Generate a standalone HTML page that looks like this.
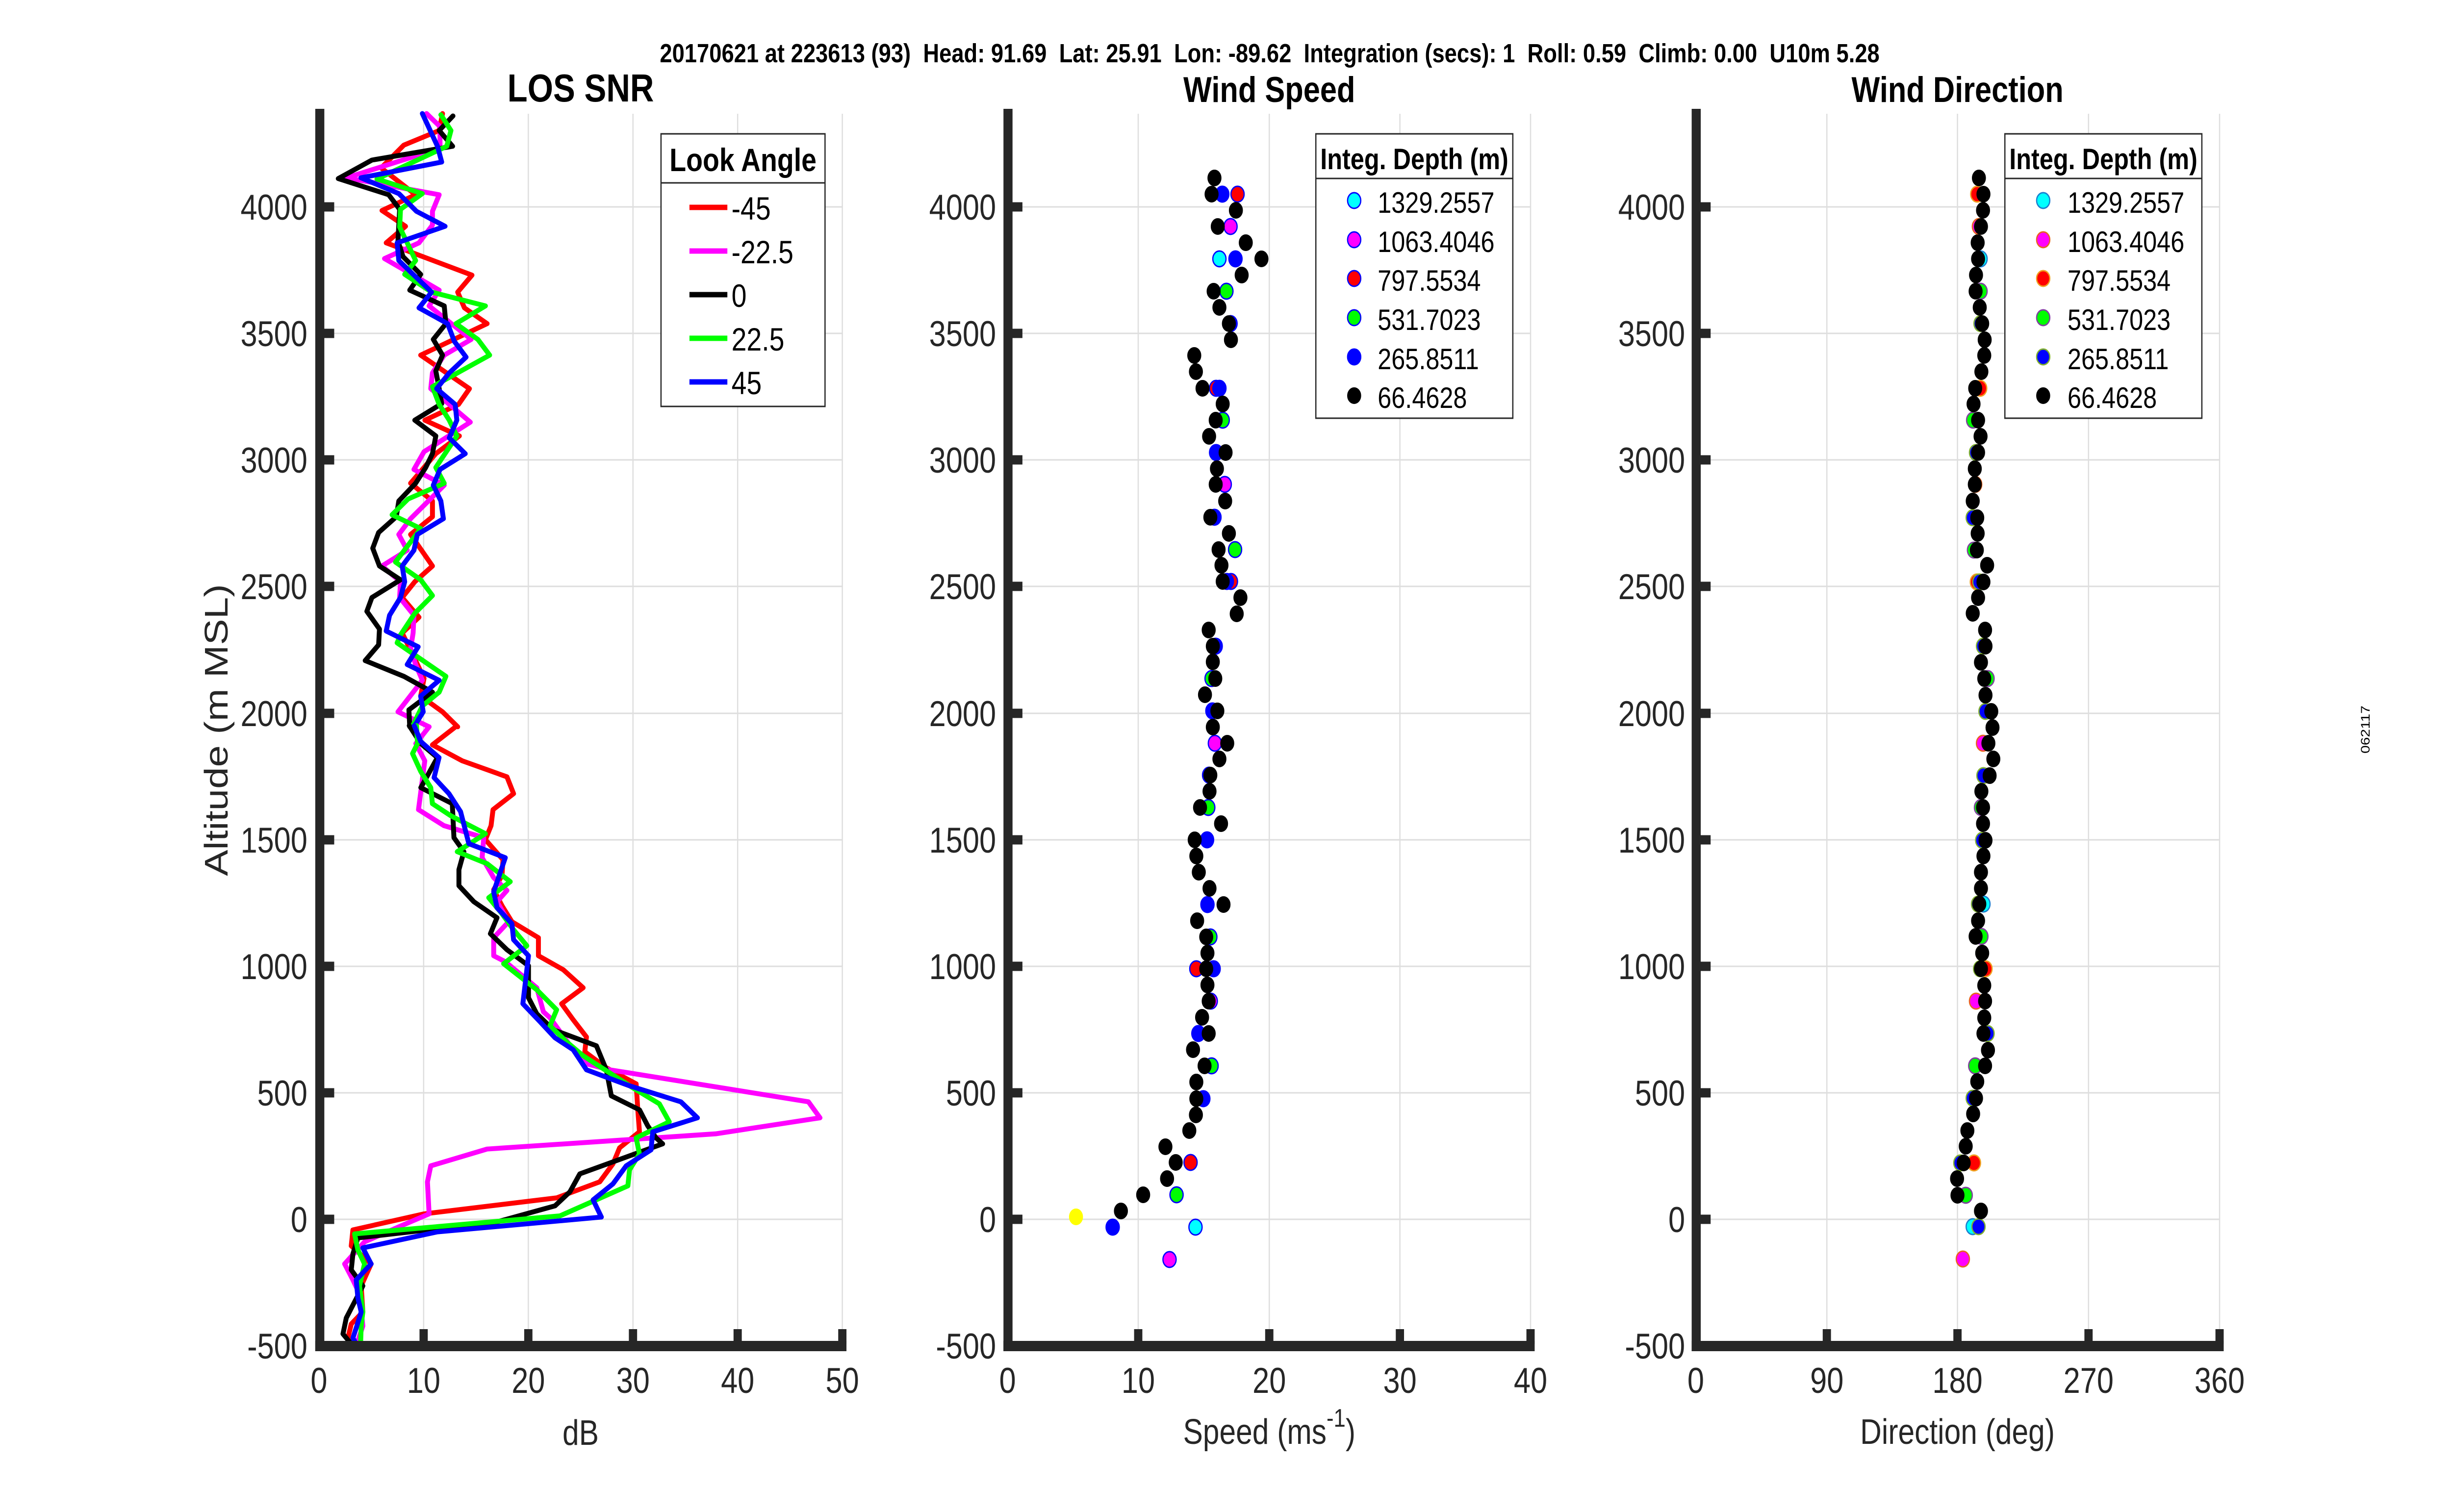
<!DOCTYPE html>
<html>
<head>
<meta charset="utf-8">
<style>
html,body{margin:0;padding:0;background:#fff;width:100%;height:100%;overflow:hidden;}
svg{position:fixed;left:0;top:0;width:100%;height:100%;display:block;}
text{font-family:"Liberation Sans",Arial,Helvetica,sans-serif;}
.tk{font-size:73px;fill:#262626;}
.lb{font-size:72px;fill:#262626;}
.ln{fill:none;stroke-width:10;stroke-linejoin:round;stroke-linecap:round;}
</style>
</head>
<body>
<svg viewBox="0 0 5950 3084" preserveAspectRatio="none" xmlns="http://www.w3.org/2000/svg">
<rect x="0" y="0" width="5950" height="3084" fill="#fff"/>

<!-- Suptitle -->
<text x="1601" y="127" font-size="54" font-weight="bold" fill="#000" textLength="2960" lengthAdjust="spacingAndGlyphs" style="white-space:pre">20170621 at 223613 (93)  Head: 91.69  Lat: 25.91  Lon: -89.62  Integration (secs): 1  Roll: 0.59  Climb: 0.00  U10m 5.28</text>

<!-- Titles -->
<text x="1409" y="207" font-size="80" font-weight="bold" text-anchor="middle" fill="#000">LOS SNR</text>
<text x="3080" y="208" font-size="73" font-weight="bold" text-anchor="middle" fill="#000">Wind Speed</text>
<text x="4750" y="208" font-size="73" font-weight="bold" text-anchor="middle" fill="#000">Wind Direction</text>

<!-- Gridlines -->
<g stroke="#dedede" stroke-width="3" fill="none">
<path d="M1028 232V2745M1282 232V2745M1536 232V2745M1790 232V2745M2044 232V2745
M774 2487H2044M774 2229H2044M774 1971H2044M774 1713H2044M774 1455H2044M774 1196H2044M774 938H2044M774 680H2044M774 422H2044"/>
<path d="M2762 232V2745M3080 232V2745M3397 232V2745M3714 232V2745
M2445 2487H3714M2445 2229H3714M2445 1971H3714M2445 1713H3714M2445 1455H3714M2445 1196H3714M2445 938H3714M2445 680H3714M2445 422H3714"/>
<path d="M4433 232V2745M4750 232V2745M5068 232V2745M5386 232V2745
M4115 2487H5386M4115 2229H5386M4115 1971H5386M4115 1713H5386M4115 1455H5386M4115 1196H5386M4115 938H5386M4115 680H5386M4115 422H5386"/>
</g>

<!-- SNR lines upper -->
<g transform="translate(780,222) scale(0.40816,0.80386)">
<polyline class="ln" vector-effect="non-scaling-stroke" stroke="#ff0000" points="720,12 700,55 490,92 355,150 560,218 360,258 500,298 385,340 895,422 810,465 850,505 985,545 590,625 880,710 815,750 615,790 820,830 680,875 530,950 660,995 660,1035 530,1080 660,1160 555,1200 480,1240 580,1290 480,1330 560,1400 610,1445 590,1490 720,1530 810,1568"/>
<polyline class="ln" vector-effect="non-scaling-stroke" stroke="#ff00ff" points="625,12 705,45 705,100 150,175 700,218 660,260 660,295 580,340 375,380 700,460 640,500 890,585 730,625 660,670 650,710 885,795 610,870 550,915 730,955 530,1040 460,1080 510,1120 360,1160 470,1200 465,1240 550,1285 545,1330 530,1370 560,1410 600,1450 455,1530 640,1568"/>
<polyline class="ln" vector-effect="non-scaling-stroke" stroke="#000000" points="782,18 700,55 780,95 300,130 100,177 400,218 465,255 455,335 485,375 590,420 525,460 730,500 740,545 665,585 720,625 680,665 700,710 715,748 555,790 680,830 660,875 620,910 560,950 460,995 445,1035 340,1075 305,1115 345,1160 470,1195 300,1240 270,1275 345,1320 340,1360 260,1400 490,1440 660,1480 520,1525 525,1568"/>
<polyline class="ln" vector-effect="non-scaling-stroke" stroke="#00ff00" points="710,15 770,55 745,95 330,178 600,215 470,255 465,300 560,385 495,420 655,465 975,500 800,545 930,585 1000,625 660,705 700,750 760,790 805,830 680,910 730,950 515,990 420,1030 590,1065 440,1150 590,1195 660,1235 555,1280 470,1335 450,1355 740,1440 700,1480 600,1515 540,1568"/>
<polyline class="ln" vector-effect="non-scaling-stroke" stroke="#0000ff" points="600,12 690,95 715,135 235,175 460,215 565,260 735,298 450,340 460,385 655,465 580,505 750,545 790,590 860,630 760,670 685,710 795,750 805,790 760,835 855,875 705,915 665,955 710,995 725,1040 570,1080 550,1120 480,1160 495,1200 470,1240 405,1285 385,1325 575,1365 510,1410 700,1450 590,1490 605,1530 550,1568"/>
</g>
<!-- SNR lines lower -->
<g transform="translate(780,1480) scale(0.80386,0.81633)">
<polyline class="ln" vector-effect="non-scaling-stroke" stroke="#ff0000" points="405,3 335,48 425,88 560,128 580,170 518,210 512,250 495,285 548,335 545,375 520,410 545,450 575,490 655,530 655,575 730,610 790,655 725,695 760,735 800,778 795,815 860,855 950,895 955,960 960,1015 900,1055 880,1095 840,1140 710,1180 310,1220 95,1260 90,1300 150,1345 120,1400 125,1465 90,1495 80,1530 100,1550"/>
<polyline class="ln" vector-effect="non-scaling-stroke" stroke="#ff00ff" points="325,3 285,45 312,88 293,210 370,250 490,280 485,330 520,380 560,412 530,440 565,490 520,530 520,575 555,590 650,655 670,715 690,730 760,810 800,845 870,860 1470,940 1505,980 1190,1020 500,1058 330,1100 320,1140 325,1220 240,1250 130,1290 70,1345 95,1385 115,1420 125,1500 105,1550"/>
<polyline class="ln" vector-effect="non-scaling-stroke" stroke="#000000" points="265,0 300,45 350,80 300,155 395,195 400,280 430,315 415,360 415,400 460,440 530,480 510,520 560,560 625,600 625,680 650,720 700,760 830,800 860,860 875,925 960,960 985,1000 1010,1030 1030,1045 930,1075 780,1120 750,1165 705,1200 530,1240 110,1280 95,1320 90,1360 125,1400 75,1480 65,1520 95,1550"/>
<polyline class="ln" vector-effect="non-scaling-stroke" stroke="#00ff00" points="287,0 290,45 275,70 300,115 330,155 335,195 390,225 495,270 410,315 500,345 570,390 505,430 545,470 580,510 620,550 550,595 650,660 710,710 690,750 740,790 790,825 940,905 1020,945 1050,990 950,1030 960,1070 930,1110 925,1150 720,1225 100,1270 110,1310 130,1345 115,1400 125,1465 120,1500 118,1550"/>
<polyline class="ln" vector-effect="non-scaling-stroke" stroke="#0000ff" points="280,0 300,40 355,80 340,130 385,170 420,215 445,295 555,330 520,415 530,455 575,495 580,535 625,575 608,695 660,740 705,780 760,810 800,860 930,900 1085,940 1135,980 1000,1015 995,1060 920,1100 880,1145 820,1185 845,1228 350,1265 125,1305 150,1345 105,1385 110,1430 120,1465 105,1505 95,1530 108,1550"/>
</g>

<!-- Speed dots -->
<g stroke="#0000ff" stroke-width="3">
<g fill="#00ffff"><circle cx="2959" cy="528" r="16"/><circle cx="2901" cy="2503" r="16"/></g>
<g fill="#ff00ff"><circle cx="2986" cy="462" r="16"/><circle cx="2972" cy="988" r="16"/><circle cx="2948" cy="1516" r="16"/><circle cx="2938" cy="2042" r="16"/><circle cx="2838" cy="2569" r="16"/></g>
<g fill="#ff0000"><circle cx="3003" cy="396" r="16"/><circle cx="2951" cy="792" r="16"/><circle cx="2987" cy="1186" r="16"/><circle cx="2903" cy="1976" r="16"/><circle cx="2889" cy="2371" r="16"/></g>
<g fill="#00ff00"><circle cx="2976" cy="594" r="16"/><circle cx="2967" cy="857" r="16"/><circle cx="2997" cy="1121" r="16"/><circle cx="2940" cy="1384" r="16"/><circle cx="2932" cy="1647" r="16"/><circle cx="2937" cy="1911" r="16"/><circle cx="2940" cy="2174" r="16"/><circle cx="2855" cy="2437" r="16"/></g>
<g fill="#0000ff"><circle cx="2966" cy="396" r="16"/><circle cx="2998" cy="528" r="16"/><circle cx="2986" cy="660" r="16"/><circle cx="2959" cy="792" r="16"/><circle cx="2951" cy="923" r="16"/><circle cx="2947" cy="1055" r="16"/><circle cx="2977" cy="1186" r="16"/><circle cx="2950" cy="1318" r="16"/><circle cx="2942" cy="1450" r="16"/><circle cx="2934" cy="1581" r="16"/><circle cx="2929" cy="1713" r="16"/><circle cx="2930" cy="1845" r="16"/><circle cx="2945" cy="1976" r="16"/><circle cx="2908" cy="2108" r="16"/><circle cx="2920" cy="2241" r="16"/><circle cx="2700" cy="2503" r="16"/></g>
</g>
<circle cx="2611" cy="2482" r="16" fill="#ffff00" stroke="#ffff00" stroke-width="2"/>
<g fill="#000" stroke="#000" stroke-width="2">
<circle cx="2947" cy="363" r="16"/><circle cx="2940" cy="396" r="16"/><circle cx="2999" cy="429" r="16"/><circle cx="2955" cy="462" r="16"/><circle cx="3023" cy="495" r="16"/><circle cx="3061" cy="528" r="16"/><circle cx="3013" cy="561" r="16"/><circle cx="2945" cy="594" r="16"/><circle cx="2959" cy="627" r="16"/><circle cx="2982" cy="660" r="16"/><circle cx="2987" cy="693" r="16"/><circle cx="2898" cy="725" r="16"/><circle cx="2902" cy="758" r="16"/><circle cx="2918" cy="792" r="16"/><circle cx="2967" cy="824" r="16"/><circle cx="2950" cy="857" r="16"/><circle cx="2934" cy="890" r="16"/><circle cx="2974" cy="923" r="16"/><circle cx="2953" cy="956" r="16"/><circle cx="2950" cy="988" r="16"/>
<circle cx="2973" cy="1022" r="16"/><circle cx="2937" cy="1055" r="16"/><circle cx="2982" cy="1088" r="16"/><circle cx="2957" cy="1121" r="16"/><circle cx="2964" cy="1153" r="16"/><circle cx="2967" cy="1186" r="16"/><circle cx="3010" cy="1219" r="16"/><circle cx="3001" cy="1252" r="16"/><circle cx="2933" cy="1285" r="16"/><circle cx="2943" cy="1318" r="16"/><circle cx="2943" cy="1350" r="16"/><circle cx="2949" cy="1384" r="16"/><circle cx="2924" cy="1417" r="16"/><circle cx="2954" cy="1450" r="16"/><circle cx="2943" cy="1483" r="16"/><circle cx="2978" cy="1516" r="16"/><circle cx="2959" cy="1548" r="16"/><circle cx="2937" cy="1581" r="16"/><circle cx="2935" cy="1614" r="16"/><circle cx="2912" cy="1647" r="16"/><circle cx="2963" cy="1680" r="16"/><circle cx="2899" cy="1713" r="16"/><circle cx="2903" cy="1746" r="16"/><circle cx="2909" cy="1779" r="16"/><circle cx="2935" cy="1812" r="16"/><circle cx="2969" cy="1845" r="16"/><circle cx="2905" cy="1878" r="16"/><circle cx="2927" cy="1911" r="16"/><circle cx="2930" cy="1944" r="16"/><circle cx="2927" cy="1976" r="16"/><circle cx="2930" cy="2009" r="16"/><circle cx="2933" cy="2042" r="16"/><circle cx="2917" cy="2075" r="16"/><circle cx="2933" cy="2108" r="16"/><circle cx="2895" cy="2141" r="16"/><circle cx="2923" cy="2174" r="16"/><circle cx="2903" cy="2207" r="16"/><circle cx="2903" cy="2241" r="16"/><circle cx="2902" cy="2274" r="16"/><circle cx="2886" cy="2306" r="16"/><circle cx="2828" cy="2339" r="16"/><circle cx="2853" cy="2371" r="16"/><circle cx="2832" cy="2404" r="16"/><circle cx="2774" cy="2437" r="16"/><circle cx="2720" cy="2470" r="16"/>
</g>

<!-- Direction dots -->
<g stroke-width="3">
<g fill="#00ffff" stroke="#1a7fd0"><circle cx="4806" cy="528" r="16"/><circle cx="4813" cy="1844" r="16"/><circle cx="4787" cy="2502" r="16"/></g>
<g fill="#ff00ff" stroke="#e8641e"><circle cx="4802" cy="462" r="16"/><circle cx="4793" cy="988" r="16"/><circle cx="4812" cy="1516" r="16"/><circle cx="4795" cy="2042" r="16"/><circle cx="4763" cy="2568" r="16"/></g>
<g fill="#ff0000" stroke="#f0a020"><circle cx="4798" cy="396" r="16"/><circle cx="4805" cy="792" r="16"/><circle cx="4797" cy="1187" r="16"/><circle cx="4818" cy="1976" r="16"/><circle cx="4790" cy="2372" r="16"/></g>
<g fill="#00ff00" stroke="#8040a0"><circle cx="4806" cy="594" r="16"/><circle cx="4788" cy="857" r="16"/><circle cx="4790" cy="1122" r="16"/><circle cx="4823" cy="1384" r="16"/><circle cx="4807" cy="1647" r="16"/><circle cx="4808" cy="1910" r="16"/><circle cx="4793" cy="2174" r="16"/><circle cx="4770" cy="2438" r="16"/></g>
<g fill="#0000ff" stroke="#80b030"><circle cx="4806" cy="660" r="16"/><circle cx="4795" cy="923" r="16"/><circle cx="4787" cy="1056" r="16"/><circle cx="4803" cy="1187" r="16"/><circle cx="4812" cy="1318" r="16"/><circle cx="4818" cy="1451" r="16"/><circle cx="4813" cy="1582" r="16"/><circle cx="4810" cy="1714" r="16"/><circle cx="4800" cy="1844" r="16"/><circle cx="4805" cy="1976" r="16"/><circle cx="4823" cy="2108" r="16"/><circle cx="4787" cy="2240" r="16"/><circle cx="4757" cy="2372" r="16"/><circle cx="4801" cy="2502" r="16"/></g>
</g>
<g fill="#000" stroke="#000" stroke-width="2">
<circle cx="4802" cy="363" r="16"/><circle cx="4813" cy="396" r="16"/><circle cx="4812" cy="429" r="16"/><circle cx="4807" cy="462" r="16"/><circle cx="4799" cy="495" r="16"/><circle cx="4800" cy="528" r="16"/><circle cx="4795" cy="561" r="16"/><circle cx="4794" cy="594" r="16"/><circle cx="4804" cy="627" r="16"/><circle cx="4810" cy="660" r="16"/><circle cx="4816" cy="693" r="16"/><circle cx="4815" cy="725" r="16"/><circle cx="4808" cy="758" r="16"/><circle cx="4793" cy="792" r="16"/><circle cx="4789" cy="824" r="16"/><circle cx="4800" cy="857" r="16"/><circle cx="4806" cy="890" r="16"/><circle cx="4800" cy="923" r="16"/><circle cx="4792" cy="956" r="16"/><circle cx="4792" cy="988" r="16"/>
<circle cx="4787" cy="1022" r="16"/><circle cx="4798" cy="1056" r="16"/><circle cx="4799" cy="1088" r="16"/><circle cx="4797" cy="1122" r="16"/><circle cx="4822" cy="1153" r="16"/><circle cx="4813" cy="1187" r="16"/><circle cx="4800" cy="1219" r="16"/><circle cx="4787" cy="1251" r="16"/><circle cx="4817" cy="1285" r="16"/><circle cx="4818" cy="1318" r="16"/><circle cx="4807" cy="1351" r="16"/><circle cx="4815" cy="1384" r="16"/><circle cx="4818" cy="1418" r="16"/><circle cx="4832" cy="1451" r="16"/><circle cx="4835" cy="1484" r="16"/><circle cx="4825" cy="1516" r="16"/><circle cx="4837" cy="1548" r="16"/><circle cx="4828" cy="1582" r="16"/><circle cx="4808" cy="1614" r="16"/><circle cx="4812" cy="1647" r="16"/><circle cx="4812" cy="1680" r="16"/><circle cx="4818" cy="1714" r="16"/><circle cx="4813" cy="1746" r="16"/><circle cx="4807" cy="1779" r="16"/><circle cx="4807" cy="1812" r="16"/><circle cx="4803" cy="1844" r="16"/><circle cx="4800" cy="1878" r="16"/><circle cx="4794" cy="1910" r="16"/><circle cx="4810" cy="1944" r="16"/><circle cx="4807" cy="1976" r="16"/><circle cx="4815" cy="2010" r="16"/><circle cx="4817" cy="2042" r="16"/><circle cx="4815" cy="2076" r="16"/><circle cx="4813" cy="2108" r="16"/><circle cx="4824" cy="2142" r="16"/><circle cx="4817" cy="2174" r="16"/><circle cx="4798" cy="2206" r="16"/><circle cx="4795" cy="2240" r="16"/><circle cx="4788" cy="2272" r="16"/><circle cx="4774" cy="2306" r="16"/><circle cx="4770" cy="2338" r="16"/><circle cx="4765" cy="2372" r="16"/><circle cx="4749" cy="2404" r="16"/><circle cx="4750" cy="2438" r="16"/><circle cx="4807" cy="2470" r="16"/>
</g>

<!-- Axes lines and ticks -->
<g fill="#262626">
<rect x="765" y="222" width="22" height="2534"/>
<rect x="765" y="2735" width="1289" height="21"/>
<rect x="1018" y="2711" width="20" height="30"/><rect x="1272" y="2711" width="20" height="30"/><rect x="1526" y="2711" width="20" height="30"/><rect x="1780" y="2711" width="20" height="30"/><rect x="2034" y="2711" width="20" height="30"/>
<rect x="776" y="2477.5" width="35" height="19"/><rect x="776" y="2219.5" width="35" height="19"/><rect x="776" y="1961.5" width="35" height="19"/><rect x="776" y="1703.5" width="35" height="19"/><rect x="776" y="1445.5" width="35" height="19"/><rect x="776" y="1186.5" width="35" height="19"/><rect x="776" y="928.5" width="35" height="19"/><rect x="776" y="670.5" width="35" height="19"/><rect x="776" y="412.5" width="35" height="19"/>
<rect x="2435" y="222" width="22" height="2534"/>
<rect x="2435" y="2735" width="1289" height="21"/>
<rect x="2752" y="2711" width="20" height="30"/><rect x="3070" y="2711" width="20" height="30"/><rect x="3387" y="2711" width="20" height="30"/><rect x="3704" y="2711" width="20" height="30"/>
<rect x="2446" y="2477.5" width="35" height="19"/><rect x="2446" y="2219.5" width="35" height="19"/><rect x="2446" y="1961.5" width="35" height="19"/><rect x="2446" y="1703.5" width="35" height="19"/><rect x="2446" y="1445.5" width="35" height="19"/><rect x="2446" y="1186.5" width="35" height="19"/><rect x="2446" y="928.5" width="35" height="19"/><rect x="2446" y="670.5" width="35" height="19"/><rect x="2446" y="412.5" width="35" height="19"/>
<rect x="4105" y="222" width="22" height="2534"/>
<rect x="4105" y="2735" width="1291" height="21"/>
<rect x="4423" y="2711" width="20" height="30"/><rect x="4740" y="2711" width="20" height="30"/><rect x="5058" y="2711" width="20" height="30"/><rect x="5376" y="2711" width="20" height="30"/>
<rect x="4116" y="2477.5" width="35" height="19"/><rect x="4116" y="2219.5" width="35" height="19"/><rect x="4116" y="1961.5" width="35" height="19"/><rect x="4116" y="1703.5" width="35" height="19"/><rect x="4116" y="1445.5" width="35" height="19"/><rect x="4116" y="1186.5" width="35" height="19"/><rect x="4116" y="928.5" width="35" height="19"/><rect x="4116" y="670.5" width="35" height="19"/><rect x="4116" y="412.5" width="35" height="19"/>
</g>

<!-- Y tick labels -->
<g class="tk" text-anchor="end">
<text x="746" y="2771">-500</text><text x="746" y="2513">0</text><text x="746" y="2255">500</text><text x="746" y="1997">1000</text><text x="746" y="1739">1500</text><text x="746" y="1481">2000</text><text x="746" y="1222">2500</text><text x="746" y="964">3000</text><text x="746" y="706">3500</text><text x="746" y="448">4000</text>
<text x="2417" y="2771">-500</text><text x="2417" y="2513">0</text><text x="2417" y="2255">500</text><text x="2417" y="1997">1000</text><text x="2417" y="1739">1500</text><text x="2417" y="1481">2000</text><text x="2417" y="1222">2500</text><text x="2417" y="964">3000</text><text x="2417" y="706">3500</text><text x="2417" y="448">4000</text>
<text x="4089" y="2771">-500</text><text x="4089" y="2513">0</text><text x="4089" y="2255">500</text><text x="4089" y="1997">1000</text><text x="4089" y="1739">1500</text><text x="4089" y="1481">2000</text><text x="4089" y="1222">2500</text><text x="4089" y="964">3000</text><text x="4089" y="706">3500</text><text x="4089" y="448">4000</text>
</g>
<!-- X tick labels -->
<g class="tk" text-anchor="middle">
<text x="774" y="2841">0</text><text x="1028" y="2841">10</text><text x="1282" y="2841">20</text><text x="1536" y="2841">30</text><text x="1790" y="2841">40</text><text x="2044" y="2841">50</text>
<text x="2445" y="2841">0</text><text x="2762" y="2841">10</text><text x="3080" y="2841">20</text><text x="3397" y="2841">30</text><text x="3714" y="2841">40</text>
<text x="4115" y="2841">0</text><text x="4433" y="2841">90</text><text x="4750" y="2841">180</text><text x="5068" y="2841">270</text><text x="5386" y="2841">360</text>
</g>

<!-- Axis labels -->
<text class="lb" x="1409" y="2947" text-anchor="middle">dB</text>
<text class="lb" x="3080" y="2945" text-anchor="middle">Speed (ms<tspan dy="-35" font-size="52">-1</tspan><tspan dy="35">)</tspan></text>
<text class="lb" x="4750" y="2945" text-anchor="middle">Direction (deg)</text>
<text transform="translate(552,1489) rotate(-90)" font-size="80" fill="#262626" text-anchor="middle">Altitude (m MSL)</text>

<!-- SNR legend -->
<rect x="1604" y="273" width="398" height="556" fill="#fff" stroke="#262626" stroke-width="3"/>
<line x1="1604" y1="373" x2="2002" y2="373" stroke="#262626" stroke-width="3"/>
<text x="1803" y="349" font-size="66" font-weight="bold" text-anchor="middle" fill="#000">Look Angle</text>
<g stroke-width="11">
<line x1="1673" y1="423" x2="1765" y2="423" stroke="#ff0000"/>
<line x1="1673" y1="512" x2="1765" y2="512" stroke="#ff00ff"/>
<line x1="1673" y1="601" x2="1765" y2="601" stroke="#000000"/>
<line x1="1673" y1="690" x2="1765" y2="690" stroke="#00ff00"/>
<line x1="1673" y1="779" x2="1765" y2="779" stroke="#0000ff"/>
</g>
<g font-size="66" fill="#000">
<text x="1775" y="448">-45</text>
<text x="1775" y="537">-22.5</text>
<text x="1775" y="626">0</text>
<text x="1775" y="715">22.5</text>
<text x="1775" y="804">45</text>
</g>

<!-- Speed legend -->
<rect x="3193" y="273" width="478" height="580" fill="#fff" stroke="#262626" stroke-width="3"/>
<line x1="3193" y1="364" x2="3671" y2="364" stroke="#262626" stroke-width="3"/>
<text x="3432" y="345" font-size="60" font-weight="bold" text-anchor="middle" fill="#000">Integ. Depth (m)</text>
<g stroke="#0000ff" stroke-width="3">
<circle cx="3286" cy="409" r="16" fill="#00ffff"/>
<circle cx="3286" cy="489" r="16" fill="#ff00ff"/>
<circle cx="3286" cy="568" r="16" fill="#ff0000"/>
<circle cx="3286" cy="648" r="16" fill="#00ff00"/>
<circle cx="3286" cy="728" r="16" fill="#0000ff"/>
</g>
<circle cx="3286" cy="807" r="16" fill="#000" stroke="#000" stroke-width="2"/>
<g font-size="60" fill="#000">
<text x="3343" y="434">1329.2557</text>
<text x="3343" y="514">1063.4046</text>
<text x="3343" y="593">797.5534</text>
<text x="3343" y="673">531.7023</text>
<text x="3343" y="753">265.8511</text>
<text x="3343" y="832">66.4628</text>
</g>

<!-- Direction legend -->
<rect x="4865" y="273" width="478" height="580" fill="#fff" stroke="#262626" stroke-width="3"/>
<line x1="4865" y1="364" x2="5343" y2="364" stroke="#262626" stroke-width="3"/>
<text x="5104" y="345" font-size="60" font-weight="bold" text-anchor="middle" fill="#000">Integ. Depth (m)</text>
<g stroke-width="3">
<circle cx="4958" cy="409" r="16" fill="#00ffff" stroke="#1a7fd0"/>
<circle cx="4958" cy="489" r="16" fill="#ff00ff" stroke="#e8641e"/>
<circle cx="4958" cy="568" r="16" fill="#ff0000" stroke="#f0a020"/>
<circle cx="4958" cy="648" r="16" fill="#00ff00" stroke="#8040a0"/>
<circle cx="4958" cy="728" r="16" fill="#0000ff" stroke="#80b030"/>
</g>
<circle cx="4958" cy="807" r="16" fill="#000" stroke="#000" stroke-width="2"/>
<g font-size="60" fill="#000">
<text x="5017" y="434">1329.2557</text>
<text x="5017" y="514">1063.4046</text>
<text x="5017" y="593">797.5534</text>
<text x="5017" y="673">531.7023</text>
<text x="5017" y="753">265.8511</text>
<text x="5017" y="832">66.4628</text>
</g>

<!-- side label -->
<text transform="translate(5750,1488) rotate(-90)" font-size="30" fill="#000" text-anchor="middle">062117</text>
</svg>
</body>
</html>
